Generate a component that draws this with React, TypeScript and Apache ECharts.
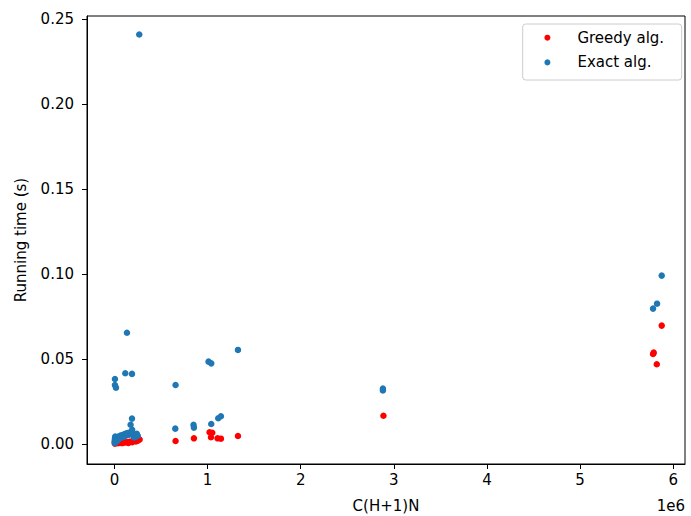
import React, { useEffect, useRef } from "react";
import * as echarts from "echarts";

// x: C(H+1)N, y: running time (s)
const greedyX: number[] = [
  5000, 20000, 40000, 60000, 80000, 100000, 120000, 140000, 150000, 160000, 180000, 190000,
  200000, 220000, 230000, 240000, 250000, 260000, 270000,
  656000, 853000, 1021000, 1050000, 1036000, 1107000, 1143000, 1326000,
  2888000, 5876000, 5783000, 5790000, 5823000,
];
const greedyY: number[] = [
  0.0004, 0.0008, 0.0006, 0.0009, 0.0007, 0.001, 0.0012, 0.0011, 0.0008, 0.0014, 0.0016, 0.0012,
  0.0019, 0.0022, 0.0016, 0.0026, 0.0021, 0.003, 0.0028,
  0.0019, 0.0035, 0.0071, 0.0068, 0.0041, 0.0035, 0.0033, 0.0049,
  0.0168, 0.0698, 0.0531, 0.0539, 0.0471,
];

const exactX: number[] = [
  2000, 3000, 4000, 5000, 6000, 8000, 10000, 15000, 20000, 30000, 35000, 45000, 50000, 60000,
  70000, 80000, 90000, 100000, 110000, 120000, 130000, 140000, 150000, 160000, 170000, 180000,
  200000, 210000, 220000, 230000, 240000, 250000, 190000,
  134000, 1326000, 116000, 188000, 5000, 5000, 16000, 656000, 1010000, 1039000,
  653000, 849000, 853000, 1039000, 1114000, 1143000, 188000, 173000,
  2882000, 2882000, 5876000, 5826000, 5783000, 266000,
];
const exactY: number[] = [
  0.0008, 0.0015, 0.0022, 0.003, 0.0038, 0.0045, 0.0012, 0.0025, 0.0035, 0.002, 0.0042, 0.003, 0.0047, 0.0037,
  0.0052, 0.004, 0.0055, 0.0045, 0.006, 0.005, 0.0064, 0.0055, 0.0068, 0.0058, 0.0066, 0.006,
  0.0064, 0.004, 0.0058, 0.0045, 0.0062, 0.005, 0.0085,
  0.0656, 0.0555, 0.0418, 0.0414, 0.0384, 0.0349, 0.0333, 0.0349, 0.0486, 0.0476,
  0.0092, 0.0114, 0.0098, 0.0119, 0.0153, 0.0165, 0.0151, 0.0115,
  0.0328, 0.0316, 0.0992, 0.0827, 0.0798, 0.241,
];

const xTicks: number[] = [0, 1e6, 2e6, 3e6, 4e6, 5e6, 6e6];
const yTicks: number[] = [0, 0.05, 0.1, 0.15, 0.2, 0.25];

const seriesNames = ["Greedy alg.", "Exact alg."];
const FONT = "DejaVu Sans";

export default function App() {
  const ref = useRef<HTMLDivElement>(null);
  useEffect(() => {
    if (!ref.current) return;
    const chart = echarts.init(ref.current, undefined, { renderer: "svg" });
    const greedy = greedyX.map((x, i) => [x, greedyY[i]]);
    const exact = exactX.map((x, i) => [x, exactY[i]]);
    chart.setOption({
      animation: false,
      backgroundColor: "#ffffff",
      grid: {
        left: 87,
        right: 6,
        top: 16,
        bottom: 52,
        show: true,
        borderColor: "#000",
        borderWidth: 1,
        backgroundColor: "transparent",
      },
      xAxis: {
        type: "value",
        min: -295000,
        max: 6126000,
        splitLine: { show: false },
        axisLine: { show: true, onZero: false, lineStyle: { color: "#000", width: 1 } },
        axisTick: { show: true, length: 5, lineStyle: { color: "#000" }, customValues: xTicks },
        axisLabel: {
          customValues: xTicks,
          formatter: (v: number) => String(Math.round(v / 1e6)),
          color: "#000",
          fontFamily: FONT,
          fontSize: 15,
          margin: 8,
        },
      },
      yAxis: {
        type: "value",
        min: -0.0116,
        max: 0.2519,
        splitLine: { show: false },
        axisLine: { show: true, onZero: false, lineStyle: { color: "#000", width: 1 } },
        axisTick: { show: true, length: 5, lineStyle: { color: "#000" }, customValues: yTicks },
        axisLabel: {
          customValues: yTicks,
          formatter: (v: number) => v.toFixed(2),
          color: "#000",
          fontFamily: FONT,
          fontSize: 15,
          margin: 13,
        },
      },
      legend: {
        data: seriesNames,
        orient: "vertical",
        left: 544.4,
        top: 28.7,
        padding: 0,
        itemGap: 6.7,
        itemWidth: 50,
        itemHeight: 6,
        icon: "circle",
        z: 10,
        textStyle: { fontFamily: FONT, fontSize: 15, color: "#000", lineHeight: 18, padding: 0 },
      },
      graphic: [
        {
          type: "rect",
          z: 9,
          shape: { x: 522.7, y: 24, width: 159, height: 56, r: 3 },
          style: { fill: "rgba(255,255,255,0.8)", stroke: "#cccccc", lineWidth: 1 },
        },
        {
          type: "text",
          x: 20.5,
          y: 240,
          rotation: Math.PI / 2,
          style: {
            text: "Running time (s)",
            font: `15px '${FONT}'`,
            fill: "#000",
            align: "center",
            verticalAlign: "middle",
          },
        },
        {
          type: "text",
          x: 386,
          y: 506,
          style: {
            text: "C(H+1)N",
            font: `15px '${FONT}'`,
            fill: "#000",
            align: "center",
            verticalAlign: "middle",
          },
        },
        {
          type: "text",
          x: 685,
          y: 506,
          style: {
            text: "1e6",
            font: `15px '${FONT}'`,
            fill: "#000",
            align: "right",
            verticalAlign: "middle",
          },
        },
      ],
      series: [
        {
          name: seriesNames[0],
          type: "scatter",
          data: greedy,
          symbolSize: 6.5,
          itemStyle: { color: "#ff0000", opacity: 1 },
        },
        {
          name: seriesNames[1],
          type: "scatter",
          data: exact,
          symbolSize: 6.5,
          itemStyle: { color: "#1f77b4", opacity: 1 },
        },
      ],
    });
    return () => chart.dispose();
  }, []);
  return (
    <div
      ref={ref}
      style={{ position: "absolute", left: 0, top: 0, width: 691, height: 516 }}
    />
  );
}
